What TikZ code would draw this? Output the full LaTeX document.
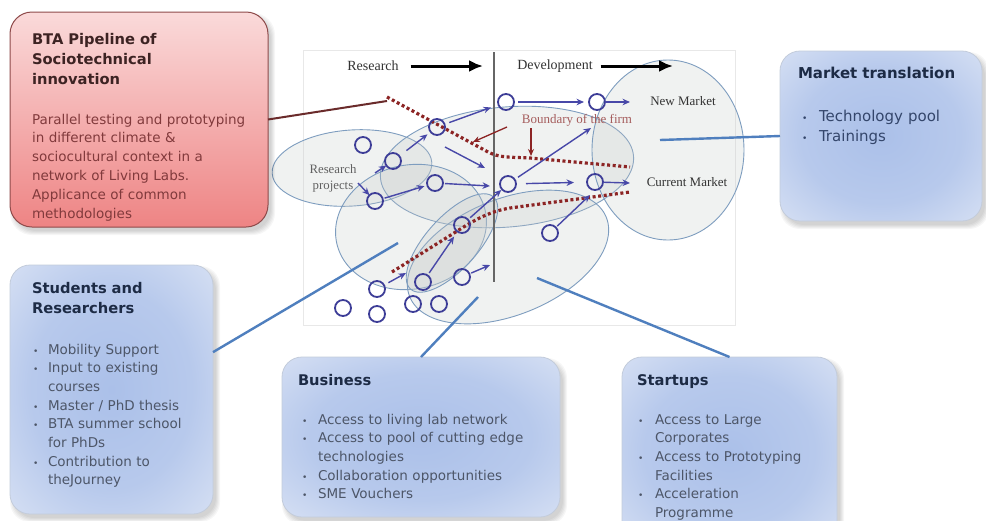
\documentclass[tikz,border=0pt]{standalone}
\usepackage{fontspec}
\setmainfont{DejaVu Sans}
\newfontfamily\timesfont{Liberation Serif}
\usetikzlibrary{arrows.meta,calc}

\definecolor{pinktop}{HTML}{FADADA}
\definecolor{pinkmid}{HTML}{F5B3B3}
\definecolor{pinkbot}{HTML}{EE8484}
\definecolor{pinkedge}{HTML}{8E4A4A}
\definecolor{blueinner}{HTML}{ABC0E9}
\definecolor{blueouter}{HTML}{E9EEF8}
\definecolor{blueedge}{HTML}{C3CCDB}
\definecolor{ellfill}{HTML}{C4C9C8}
\definecolor{elledge}{HTML}{7E9DBF}
\definecolor{circc}{HTML}{3D3D97}
\definecolor{arrc}{HTML}{4848A8}
\definecolor{firmred}{HTML}{8C2424}
\definecolor{linkblue}{HTML}{4F7FBE}
\definecolor{brownlink}{HTML}{6A2B2B}
\definecolor{bofcol}{HTML}{A55D5D}
\definecolor{btatitle}{HTML}{3D2323}
\definecolor{btabody}{HTML}{813A3C}
\definecolor{bluetitle}{HTML}{1D2B45}
\definecolor{bluebody}{HTML}{4D5668}
\definecolor{mkbody}{HTML}{34466B}
\definecolor{labgray}{HTML}{333333}

\pgfdeclareradialshading{boxglow}{\pgfpoint{0bp}{0bp}}{%
  color(0bp)=(blueinner);
  color(20bp)=(blueinner!80!blueouter);
  color(46bp)=(blueouter);
  color(50bp)=(blueouter)}

% soft shadow under a rounded box: x1 y1 x2 y2 radius
\newcommand{\softshadow}[5]{%
  \foreach \s in {0,1,2,3,4}{%
    \fill[black,opacity=0.035,rounded corners=#5]
      ({#1+4-\s},{#2+5-\s}) rectangle ({#3+3+\s},{#4+4+\s});}}

\newcommand{\bitem}[2][15pt]{\makebox[#1][l]{\small\textbullet}#2}

\begin{document}
\begin{tikzpicture}[x=1pt,y=-1pt,
  every node/.style={inner sep=0pt,outer sep=0pt},
  pinkbox/.style={rectangle,rounded corners=22pt,draw=pinkedge,line width=1pt,
    top color=pinktop,middle color=pinkmid,bottom color=pinkbot},
  bluebox/.style={rectangle,rounded corners=20pt,draw=blueedge,line width=0.8pt,
    shading=boxglow},
  panel/.style={rectangle,draw=black!9,line width=0.6pt,fill=white},
  blob/.style={draw=elledge,line width=0.9pt,fill=ellfill,fill opacity=0.24},
  bubble/.style={circle,draw=circc,line width=1.8pt,minimum size=16pt},
  flow/.style={draw=arrc,line width=1.4pt,-{Stealth[length=7.5pt,width=6.5pt]}},
  bigarrow/.style={draw=black,line width=3pt,-{Latex[length=14pt,width=12pt]}},
  firmline/.style={draw=firmred,line width=3.2pt,dash pattern=on 3pt off 2.6pt},
  firmarrow/.style={draw=firmred,line width=1.3pt,-{Stealth[length=7pt,width=6pt]}},
  divider/.style={draw=black!60,line width=1.5pt},
  link/.style={draw=linkblue,line width=2.4pt},
  brown/.style={draw=brownlink,line width=2pt},
  serifl/.style={font=\timesfont\fontsize{14}{16}\selectfont,text=labgray},
  btitle/.style={anchor=base west,text width=#1,align=left,
    font=\bfseries\fontsize{14.7}{20}\selectfont,text=bluetitle},
  bbody/.style={anchor=base west,text width=#1,align=left,
    font=\fontsize{13.5}{18.7}\selectfont,text=bluebody}]

\path[use as bounding box] (0,0) rectangle (986,520);
\clip (0,0) rectangle (986,520);
\fill[white] (0,0) rectangle (986,520);

% ---------- innovation funnel panel ----------
\node[panel,minimum width=432pt,minimum height=275pt,anchor=north west] (panel) at (303,50) {};

% overlapping project clusters
\filldraw[blob,rotate around={4:(352,168)}]  (352,168) ellipse [x radius=80, y radius=38];
\filldraw[blob,rotate around={5:(507,167)}]  (507,167) ellipse [x radius=127, y radius=60];
\filldraw[blob,rotate around={12:(411,227)}] (411,227) ellipse [x radius=76, y radius=62];
\filldraw[blob,rotate around={22:(508,257)}] (508,257) ellipse [x radius=106, y radius=58];
\filldraw[blob,rotate around={48:(452,243)}] (452,243) ellipse [x radius=62, y radius=26];
\filldraw[blob] (668,150) ellipse [x radius=76, y radius=90];

% research / development divider
\coordinate (vtop) at (494,52);
\coordinate (vbot) at (494,282);
\draw[divider] (vtop) -- (vbot);

% phase headings
\node[serifl] (lres) at (373,66) {Research};
\node[serifl] (ldev) at (555,66) {Development};
\coordinate (resend) at (483,66);
\coordinate (devend) at (673,66);
\draw[bigarrow,shorten <=12pt] (lres.east) -- (resend);
\draw[bigarrow,shorten <=8pt] (ldev.east) -- (devend);

% boundary of the firm
\draw[firmline] (387,97) -- (488,152) .. controls (500,158) and (510,157) .. (530,158) -- (630,167);
\draw[firmline] (392,272) -- (462,228) .. controls (478,218) and (492,211) .. (510,208) -- (630,192);

% market labels
\node[font=\timesfont\fontsize{13}{15}\selectfont,text=labgray] (newm) at (683,101) {New Market};
\node[font=\timesfont\fontsize{13}{15}\selectfont,text=labgray] (curm) at (687,182) {Current Market};
\node[font=\timesfont\fontsize{13}{15}\selectfont,text=bofcol] (bof) at (577,120) {Boundary of the firm};
\node[font=\timesfont\fontsize{12.8}{16}\selectfont,text=black!62,align=center] (rp) at (333,178) {Research\\projects};

% projects
\node[bubble] (b1)  at (363,145) {};
\node[bubble] (b2)  at (393,161) {};
\node[bubble] (b3)  at (375,201) {};
\node[bubble] (b4)  at (435,183) {};
\node[bubble] (b5)  at (437,127) {};
\node[bubble] (b6)  at (506,102) {};
\node[bubble] (b7)  at (597,102) {};
\node[bubble] (b8)  at (508,184) {};
\node[bubble] (b9)  at (595,182) {};
\node[bubble] (b10) at (462,225) {};
\node[bubble] (b11) at (550,233) {};
\node[bubble] (b12) at (377,289) {};
\node[bubble] (b13) at (423,282) {};
\node[bubble] (b14) at (462,277) {};
\node[bubble] (b15) at (343,308) {};
\node[bubble] (b16) at (377,314) {};
\node[bubble] (b17) at (413,304) {};
\node[bubble] (b18) at (439,304) {};

% free arrow ends
\coordinate (nm-in)  at (630,102);
\coordinate (cm-in)  at (630,183);
\coordinate (cm-low) at (590,195);
\coordinate (up-end) at (591,128);
\coordinate (vl-a)   at (490,186);
\coordinate (fa1)    at (445,147);
\coordinate (fa2)    at (485,168);
\coordinate (rp-a)   at (375,173);
\coordinate (rp-b)   at (358,183);
\coordinate (low-a)  at (406,273);
\coordinate (low-b)  at (490,265);

% project flows
\draw[flow,shorten <=5pt,shorten >=8pt] (b5) -- (b6);
\draw[flow,shorten <=4pt,shorten >=5pt] (b6) -- (b7);
\draw[flow] (b7) -- (nm-in);
\draw[flow,shorten <=9pt,shorten >=4pt] (b2) -- (b5);
\draw[flow] (rp-a) -- (b2);
\draw[flow] (rp-b) -- (b3);
\draw[flow] (fa1) -- (fa2);
\draw[flow,shorten <=2pt,shorten >=3pt] (b3) -- (b4);
\draw[flow,shorten <=2pt] (b4) -- (vl-a);
\draw[flow,shorten <=4pt] (b8) -- (up-end);
\draw[flow,shorten <=10pt,shorten >=13pt] (b8) -- (b9);
\draw[flow] (b9) -- (cm-in);
\draw[flow,shorten <=2pt] (b11) -- (cm-low);
\draw[flow,shorten <=3pt,shorten >=1pt] (b10) -- (b8);
\draw[flow,shorten <=5pt] (b12) -- (low-a);
\draw[flow,shorten <=3pt,shorten >=6pt] (b13) -- (b10);
\draw[flow,shorten <=2pt] (b14) -- (low-b);

% boundary pointers
\coordinate (bd-a1) at (507,127);
\coordinate (bd-a2) at (473,142);
\coordinate (bd-b1) at (531,128);
\coordinate (bd-b2) at (531,156);
\draw[firmarrow] (bd-a1) -- (bd-a2);
\draw[firmarrow] (bd-b1) -- (bd-b2);

% ---------- callout boxes ----------
\softshadow{10}{12}{268}{227}{22pt}
\node[pinkbox,minimum width=258pt,minimum height=215pt,anchor=north west] (bta) at (10,12) {};
\node[anchor=base west,text width=230pt,align=left,font=\bfseries\fontsize{14.7}{20}\selectfont,text=btatitle]
  (bta-t) at (32,44.5) {BTA Pipeline of\\Sociotechnical\\innovation};
\node[anchor=base west,text width=232pt,align=left,font=\fontsize{13.5}{18.9}\selectfont,text=btabody]
  (bta-b) at (32,124) {Parallel testing and prototyping\\in different climate \&\\sociocultural context in a\\network of Living Labs.\\Applicance of common\\methodologies};

\softshadow{780}{51}{982}{221}{20pt}
\node[bluebox,minimum width=202pt,minimum height=170pt,anchor=north west] (market) at (780,51) {};
\node[btitle=180pt,font=\bfseries\fontsize{15}{20}\selectfont] (market-t) at (798,78) {Market translation};
\node[bbody=180pt,font=\fontsize{15}{20.7}\selectfont,text=mkbody] (market-b) at (802,121)
  {\bitem[17pt]{Technology pool}\\\bitem[17pt]{Trainings}};

\softshadow{10}{265}{213}{514}{20pt}
\node[bluebox,minimum width=203pt,minimum height=249pt,anchor=north west] (students) at (10,265) {};
\node[btitle=180pt] (students-t) at (32,293) {Students and\\Researchers};
\node[bbody=180pt] (students-b) at (33,354)
  {\bitem{Mobility Support}\\\bitem{Input to existing}\\\hspace*{15pt}courses\\
   \bitem{Master / PhD thesis}\\\bitem{BTA summer school}\\\hspace*{15pt}for PhDs\\
   \bitem{Contribution to}\\\hspace*{15pt}theJourney};

\softshadow{282}{357}{560}{517}{20pt}
\node[bluebox,minimum width=278pt,minimum height=160pt,anchor=north west] (business) at (282,357) {};
\node[btitle=240pt] (business-t) at (298,385.5) {Business};
\node[bbody=255pt] (business-b) at (302,424)
  {\bitem[16pt]{Access to living lab network}\\\bitem[16pt]{Access to pool of cutting edge}\\
   \hspace*{16pt}technologies\\\bitem[16pt]{Collaboration opportunities}\\\bitem[16pt]{SME Vouchers}};

\softshadow{622}{357}{837}{545}{20pt}
\node[bluebox,minimum width=215pt,minimum height=188pt,anchor=north west] (startups) at (622,357) {};
\node[btitle=190pt] (startups-t) at (637,385.5) {Startups};
\node[bbody=195pt] (startups-b) at (638,424)
  {\bitem[17pt]{Access to Large}\\\hspace*{17pt}Corporates\\\bitem[17pt]{Access to Prototyping}\\
   \hspace*{17pt}Facilities\\\bitem[17pt]{Acceleration}\\\hspace*{17pt}Programme};

% ---------- connectors ----------
\coordinate (fb-start) at (387,101);
\draw[brown] (bta.east) -- (fb-start);

\coordinate (mk-in) at (660,140);
\coordinate (st-in) at (398,243);
\coordinate (bu-in) at (478,297);
\coordinate (su-in) at (537,278);
\draw[link] (mk-in) -- (market.west);
\draw[link] (st-in) -- ($(students.north east)!0.35!(students.south east)$);
\draw[link] (bu-in) -- (business.north);
\draw[link] (su-in) -- (startups.north);

\end{tikzpicture}
\end{document}
